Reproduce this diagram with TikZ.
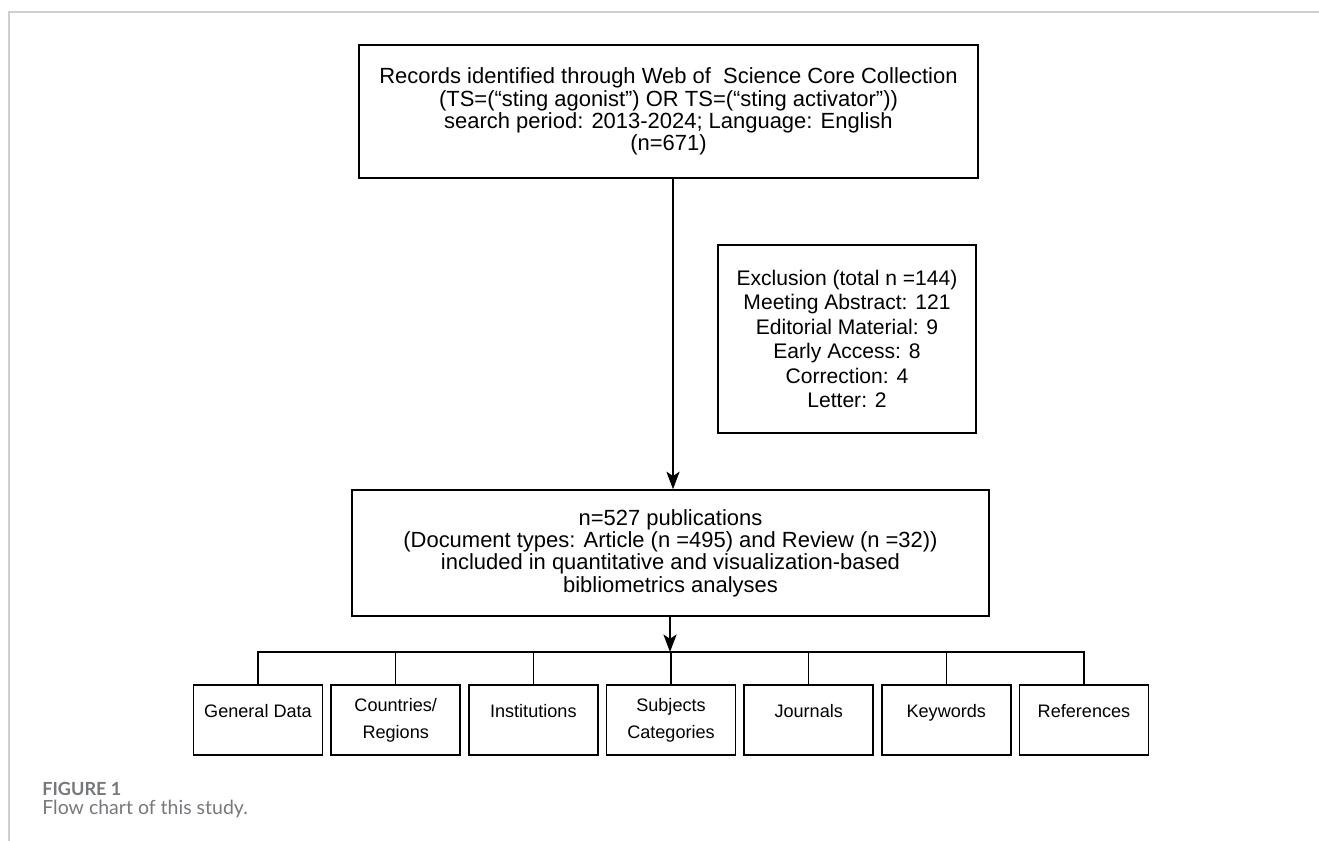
\documentclass[tikz,border=0pt]{standalone}
\usepackage{fontspec}
\setmainfont{Liberation Sans}
\newfontfamily\capfont{Lato}
\usetikzlibrary{arrows.meta}
\definecolor{framegray}{HTML}{CFCFCF}
\definecolor{capgray}{HTML}{76787B}
\begin{document}
\begin{tikzpicture}[x=0.02cm,y=-0.02cm,
box/.style={draw, line width=0.9pt, align=center, inner sep=0pt,
  font=\fontsize{12.5}{12.7}\selectfont},
leaf/.style={box, minimum width=2.58cm, minimum height=1.4cm,
  font=\fontsize{10.3}{15.3}\selectfont},
link/.style={line width=0.9pt},
arr/.style={link, -{Stealth[length=10pt,width=7.5pt,inset=2.5pt]}}]
\useasboundingbox (0,0) rectangle (1319,841);
\draw[framegray, line width=0.8pt] (9,841) -- (9,12) -- (1319,12);

% main flow
\node (search) at (668.5,111.5) [box, minimum width=12.38cm, minimum height=2.66cm]
{Records identified through Web of~ Science Core Collection\\
(TS=(“sting agonist”) OR TS=(“sting activator”))\\
search period: 2013-2024; Language: English\\
(n=671)};
\node (excl) at (847,339) [box, minimum width=5.16cm, minimum height=3.76cm,
  font=\fontsize{12}{13.9}\selectfont]
{Exclusion (total n =144)\\
Meeting Abstract: 121\\
Editorial Material: 9\\
Early Access: 8\\
Correction: 4\\
Letter: 2};
\node (incl) at (670.5,553) [box, minimum width=12.74cm, minimum height=2.52cm]
{n=527 publications\\
(Document types: Article (n =495) and Review (n =32))\\
included in quantitative and visualization-based\\
bibliometrics analyses};

% analyses
\node (gen) at (258,720) [leaf] {General Data\\[-10pt]\strut};
\node (ctry) at (395.7,720) [leaf] {Countries/\\ Regions};
\node (inst) at (533.3,720) [leaf] {Institutions\\[-10pt]\strut};
\node (subj) at (671,720) [leaf] {Subjects\\ Categories};
\node (jour) at (808.7,720) [leaf] {Journals\\[-10pt]\strut};
\node (kw) at (946.3,720) [leaf] {Keywords\\[-10pt]\strut};
\node (refs) at (1084,720) [leaf] {References\\[-10pt]\strut};
\coordinate (bus) at (670,652);

\draw[arr] (search.south -| 673,0) to (incl.north -| 673,0);
\draw[arr] (incl.south -| bus) to (bus);
\draw[link]
(gen.north) -- (gen.north |- bus) -- (refs.north |- bus) -- (refs.north)
(ctry.north) to (ctry.north |- bus)
(inst.north) to (inst.north |- bus)
(subj.north) to (subj.north |- bus)
(jour.north) to (jour.north |- bus)
(kw.north) to (kw.north |- bus);

% caption
\node (fignum) at (42,795) [anchor=base west, inner sep=0pt, text=capgray,
  font=\capfont\bfseries\fontsize{10.3}{12}\selectfont] {FIGURE 1};
\node (figcap) at (42,814) [anchor=base west, inner sep=0pt, text=capgray,
  font=\capfont\fontsize{11.1}{13}\selectfont] {Flow chart of this study.};
\end{tikzpicture}
\end{document}
